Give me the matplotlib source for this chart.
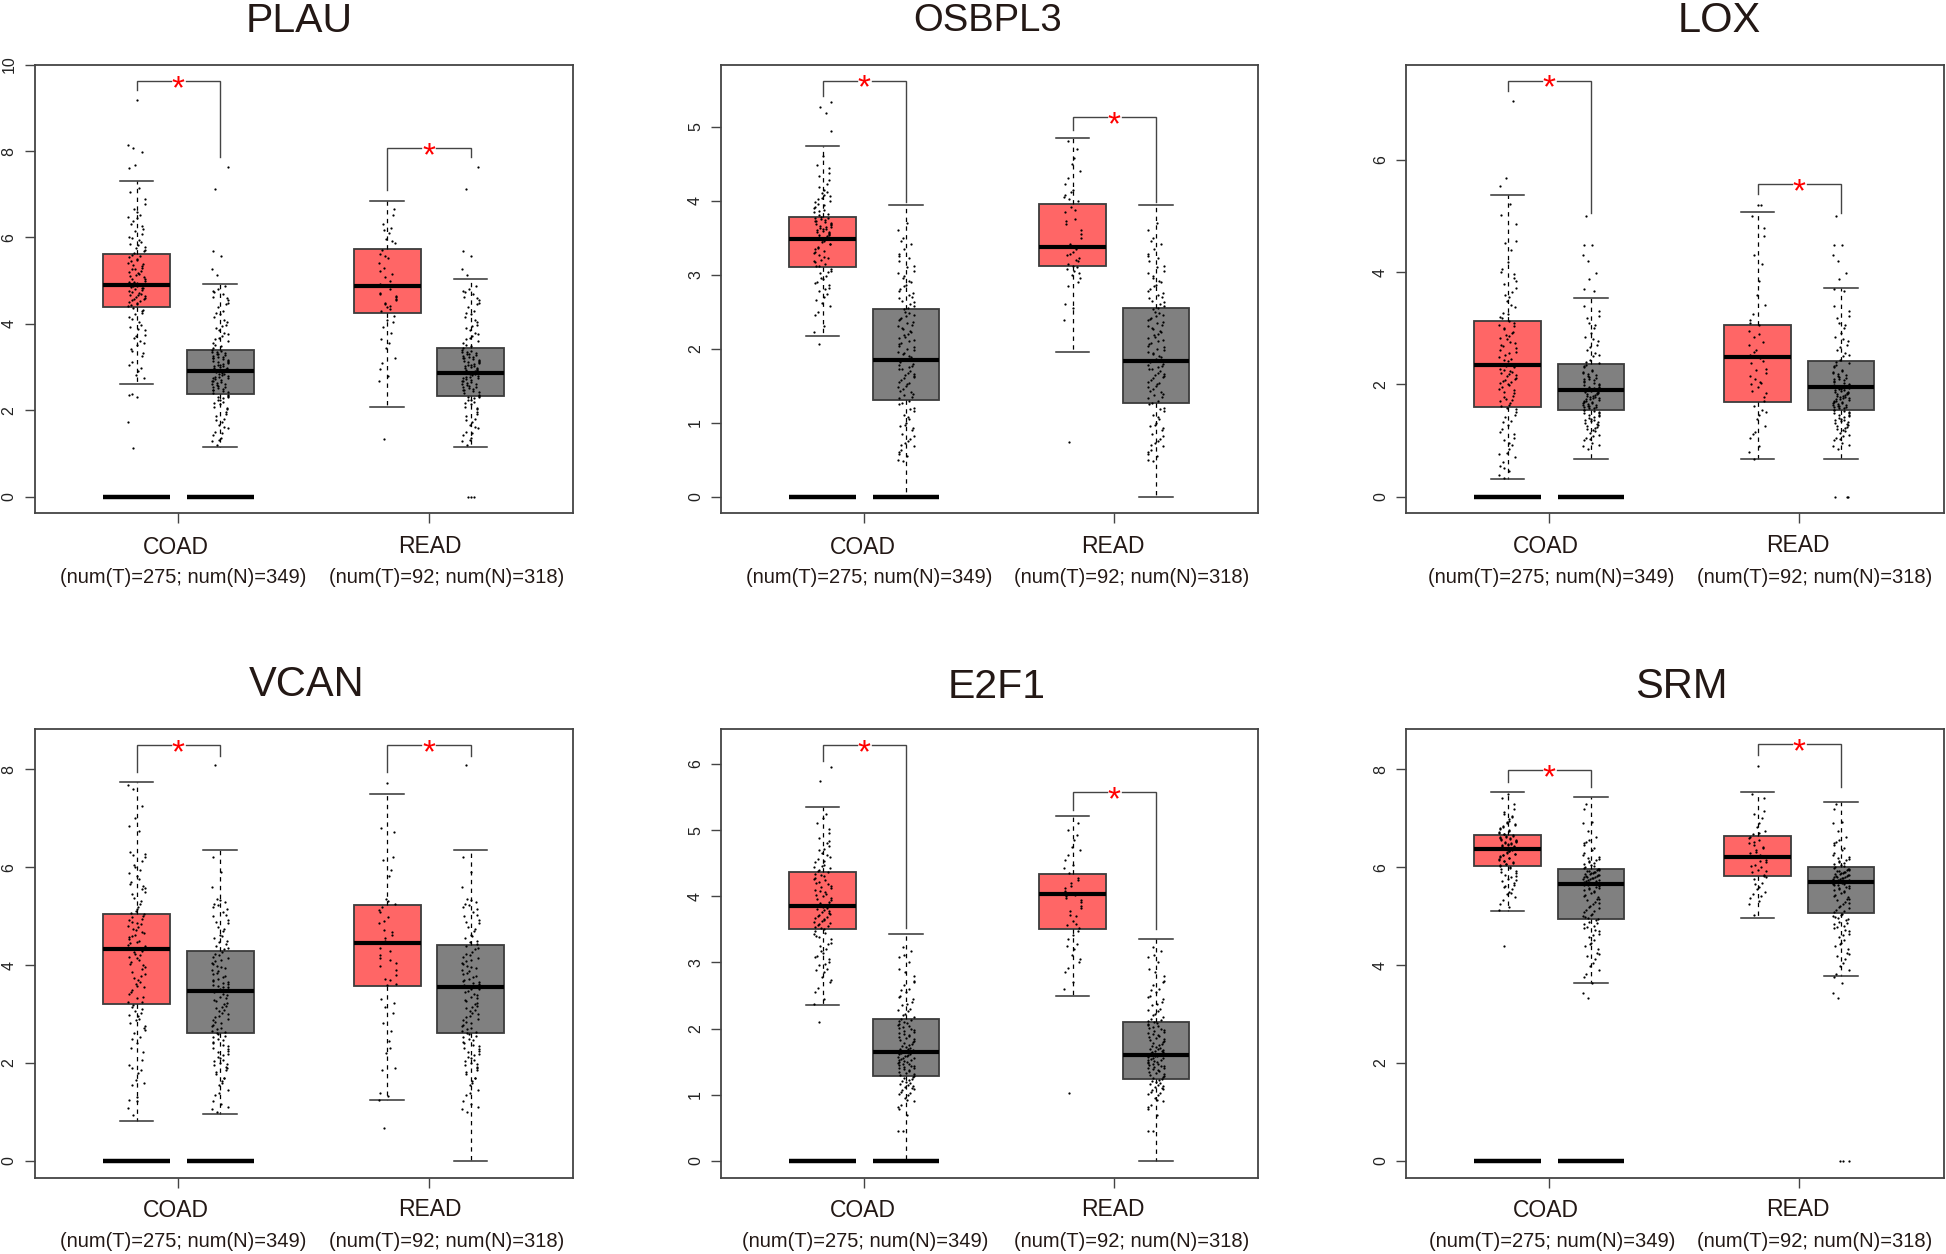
import matplotlib
matplotlib.use("Agg")
import matplotlib.pyplot as plt

plt.rcParams['font.family'] = ['Liberation Sans', 'DejaVu Sans']

# stats per box: whisker low, q1, median, q3, whisker high  (COAD T, COAD N, READ T, READ N)
plau_stats = [[2.62,4.38,4.90,5.62,7.30],[1.15,2.37,2.92,3.40,4.93],[2.08,4.25,4.87,5.73,6.85],[1.15,2.33,2.87,3.45,5.05]]
osbpl3_stats = [[2.17,3.10,3.48,3.78,4.74],[0,1.30,1.84,2.53,3.94],[1.95,3.12,3.37,3.95,4.85],[0,1.27,1.83,2.55,3.94]]
lox_stats = [[0.31,1.60,2.35,3.13,5.38],[0.66,1.55,1.90,2.37,3.53],[0.66,1.68,2.48,3.06,5.08],[0.66,1.55,1.95,2.42,3.72]]
vcan_stats = [[0.82,3.20,4.33,5.05,7.74],[0.95,2.60,3.46,4.28,6.35],[1.24,3.58,4.45,5.22,7.50],[0,2.60,3.55,4.40,6.35]]
e2f1_stats = [[2.35,3.50,3.86,4.37,5.35],[0,1.28,1.65,2.15,3.43],[2.50,3.50,4.03,4.33,5.22],[0,1.24,1.60,2.10,3.36]]
srm_stats = [[5.10,6.03,6.38,6.65,7.54],[3.63,4.95,5.65,5.97,7.44],[4.97,5.83,6.20,6.63,7.54],[3.77,5.07,5.70,6.00,7.33]]

# (bracket start over tumour, bracket top, bracket end over normal)
plau_brackets = [(9.42,9.62,7.85),(7.1,8.07,7.85)]
osbpl3_brackets = [(5.42,5.62,3.98),(4.95,5.13,3.98)]
lox_brackets = [(7.22,7.41,5.05),(5.4,5.57,5.05)]
vcan_brackets = [(7.95,8.5,8.28),(7.95,8.5,8.28)]
e2f1_brackets = [(6.05,6.28,3.52),(5.3,5.57,3.5)]
srm_brackets = [(7.75,7.98,7.65),(8.3,8.52,7.65)]

plau_t_coad = [1.12,1.73,2.30,2.35,2.38,2.75,2.82,2.90,2.98,3.12,3.25,3.33,3.41,3.52,3.60,3.68,3.74,3.85,3.92,4.05,4.16,4.22,4.30,4.36,4.41,4.46,4.50,4.55,4.58,4.62,4.66,4.70,4.74,4.78,4.82,4.85,4.88,4.92,4.96,5.00,5.05,5.10,5.15,5.20,5.26,5.30,5.36,5.42,5.48,5.54,5.60,5.68,5.75,5.82,5.90,5.98,6.08,6.20,6.32,6.45,6.52,6.65,6.78,6.90,7.05,7.15,7.60,7.68,7.98,8.07,8.15,9.18]
plau_t_read = [1.34,2.68,2.80,2.95,3.10,3.20,3.45,3.55,3.80,3.92,4.05,4.18,4.30,4.38,4.42,4.48,4.58,4.65,4.72,4.80,4.92,5.08,5.15,5.30,5.40,5.52,5.62,5.70,5.88,5.96,6.10,6.22,6.30,6.52,6.65]
plau_n = [1.20,1.28,1.35,1.42,1.50,1.58,1.65,1.72,1.80,1.88,1.95,2.02,2.08,2.14,2.20,2.25,2.30,2.34,2.40,2.44,2.48,2.52,2.55,2.58,2.62,2.65,2.68,2.72,2.75,2.78,2.82,2.85,2.88,2.91,2.94,2.97,3.00,3.03,3.06,3.09,3.12,3.15,3.18,3.21,3.24,3.28,3.31,3.34,3.38,3.44,3.52,3.60,3.68,3.72,3.80,3.90,3.98,4.05,4.15,4.22,4.30,4.40,4.48,4.56,4.62,4.70,4.76,4.80,4.88,5.14,5.28,5.56,5.68,7.12,7.62]
plau_read_extra = [0,0,0]
plau_t_coad_core = [3.05,3.37,3.55,3.71,3.88,3.98,4.12,4.25,4.33,4.43,4.48,4.53,4.57,4.60,4.64,4.68,4.72,4.76,4.80,4.84,4.87,4.90,4.94,4.98,5.03,5.08,5.13,5.18,5.23,5.28,5.33,5.39,5.45,5.51,5.57,5.63,5.71,5.78,5.86,5.94,6.02,6.14,6.26,6.39,6.48,6.58]
plau_t_read_core = [3.65,4.10,4.35,4.45,4.55,4.62,4.70,5.00,5.22,5.58,5.92,6.18]
plau_n_core = [1.32,1.47,1.62,1.77,1.92,2.05,2.17,2.23,2.28,2.32,2.36,2.42,2.46,2.50,2.54,2.57,2.60,2.64,2.67,2.70,2.74,2.77,2.80,2.84,2.87,2.90,2.93,2.96,2.99,3.02,3.05,3.08,3.11,3.14,3.17,3.20,3.23,3.26,3.30,3.33,3.36,3.40,3.48,3.56,3.64,3.76,3.85,3.95,4.10,4.25,4.45,4.60,4.74]

osbpl3_t_coad = [2.06,2.22,2.30,2.45,2.50,2.58,2.62,2.70,2.74,2.78,2.82,2.86,2.90,2.94,2.98,3.02,3.05,3.08,3.11,3.14,3.17,3.20,3.23,3.26,3.29,3.32,3.35,3.38,3.41,3.44,3.46,3.49,3.51,3.53,3.55,3.57,3.59,3.61,3.63,3.65,3.67,3.69,3.71,3.73,3.75,3.77,3.80,3.84,3.88,3.92,3.96,4.00,4.04,4.08,4.12,4.18,4.28,4.38,4.48,4.60,5.19,5.27,5.34,4.94]
osbpl3_t_read = [0.74,2.38,2.55,2.60,2.85,2.95,3.00,3.05,3.10,3.14,3.18,3.22,3.26,3.30,3.35,3.42,3.50,3.60,3.68,3.75,3.85,3.92,4.00,4.02,4.05,4.15,4.22,4.30,4.40,4.50,4.58,4.70,4.80]
osbpl3_n = [0.48,0.50,0.55,0.60,0.63,0.68,0.72,0.75,0.78,0.85,0.90,0.92,0.95,1.00,1.05,1.10,1.15,1.20,1.25,1.29,1.33,1.37,1.41,1.45,1.48,1.52,1.55,1.58,1.61,1.64,1.67,1.70,1.73,1.76,1.79,1.82,1.86,1.90,1.94,1.98,2.02,2.06,2.10,2.14,2.18,2.22,2.26,2.30,2.34,2.38,2.42,2.46,2.50,2.55,2.60,2.65,2.70,2.75,2.80,2.86,2.92,2.98,3.05,3.12,3.18,3.22,3.28,3.35,3.42,3.50,3.60,3.70]
osbpl3_t_coad_core = [2.66,2.80,2.88,2.96,3.04,3.12,3.18,3.24,3.30,3.36,3.42,3.47,3.50,3.52,3.54,3.56,3.58,3.60,3.62,3.64,3.66,3.68,3.70,3.72,3.74,3.76,3.78,3.82,3.86,3.90,3.94,3.98,4.02,4.06,4.10,4.15,4.22,4.33,4.44]
osbpl3_t_read_core = [2.90,3.02,3.08,3.12,3.20,3.28,3.38,3.55,3.72,3.88,4.08,4.12]
osbpl3_n_core = [0.58,0.70,0.82,0.97,1.08,1.18,1.27,1.35,1.39,1.43,1.50,1.54,1.60,1.63,1.66,1.72,1.75,1.78,1.84,1.88,1.92,1.96,2.00,2.04,2.08,2.12,2.16,2.20,2.24,2.28,2.32,2.36,2.40,2.44,2.48,2.53,2.58,2.63,2.68,2.73,2.78,2.84,2.90,2.95,3.02,3.10,3.25,3.45]

lox_t_coad = [0.33,0.38,0.45,0.55,0.62,0.70,0.78,0.85,0.92,1.00,1.05,1.12,1.20,1.28,1.35,1.42,1.50,1.56,1.62,1.66,1.70,1.74,1.80,1.86,1.92,1.98,2.02,2.06,2.10,2.14,2.18,2.22,2.26,2.30,2.33,2.37,2.41,2.46,2.52,2.58,2.64,2.70,2.76,2.82,2.88,2.94,3.00,3.06,3.12,3.20,3.28,3.38,3.48,3.55,3.65,3.78,3.90,3.96,4.05,4.18,4.40,4.52,4.55,4.85,5.02,5.21,5.53,5.68,7.05]
lox_t_read = [0.66,0.80,0.90,1.05,1.12,1.25,1.38,1.45,1.55,1.62,1.70,1.78,1.88,1.95,2.02,2.10,2.20,2.28,2.38,2.47,2.52,2.62,2.75,2.85,2.95,3.05,3.15,3.25,3.42,3.60,3.85,4.15,4.30,4.65,4.78,5.00,5.20,5.20]
lox_n = [0.85,0.90,0.95,1.00,1.05,1.10,1.14,1.18,1.22,1.26,1.30,1.33,1.36,1.39,1.42,1.45,1.48,1.51,1.54,1.57,1.59,1.61,1.63,1.65,1.67,1.69,1.71,1.73,1.75,1.77,1.79,1.81,1.83,1.85,1.87,1.89,1.91,1.93,1.95,1.98,2.01,2.04,2.07,2.10,2.13,2.16,2.19,2.22,2.26,2.30,2.34,2.38,2.44,2.50,2.56,2.62,2.70,2.78,2.84,2.92,3.00,3.10,3.22,3.30,3.40,3.66,3.70,3.87,3.99,4.20,4.31,4.49,4.49,5.00]
lox_read_extra = [0,0,0]
lox_t_coad_core = [0.50,0.75,0.95,1.15,1.33,1.46,1.58,1.64,1.72,1.78,1.84,1.90,1.96,2.00,2.04,2.08,2.12,2.16,2.20,2.24,2.28,2.32,2.36,2.43,2.49,2.55,2.62,2.68,2.74,2.80,2.86,2.92,2.98,3.04,3.10,3.18,3.26,3.42,3.60,3.72,3.85,4.00]
lox_t_read_core = [1.15,1.50,1.85,2.00,2.05,2.15,2.25,2.42,2.58,2.70,2.90,3.10]
lox_n_core = [0.92,1.02,1.08,1.16,1.20,1.24,1.28,1.31,1.34,1.37,1.40,1.43,1.46,1.49,1.52,1.55,1.58,1.60,1.62,1.64,1.66,1.68,1.70,1.72,1.74,1.76,1.78,1.80,1.82,1.84,1.86,1.88,1.90,1.92,1.94,1.96,1.99,2.03,2.06,2.09,2.12,2.15,2.20,2.24,2.32,2.40,2.52,2.66,2.80,3.05,3.18]

vcan_t_coad = [0.93,1.07,1.22,1.25,1.55,1.58,1.65,1.80,1.85,1.90,2.05,2.22,2.30,2.40,2.52,2.60,2.68,2.75,2.82,2.90,2.98,3.05,3.10,3.18,3.25,3.32,3.40,3.48,3.55,3.62,3.70,3.78,3.85,3.92,4.00,4.06,4.14,4.20,4.26,4.32,4.38,4.45,4.50,4.58,4.62,4.68,4.74,4.80,4.86,4.92,4.98,5.04,5.10,5.18,5.30,5.45,5.55,5.62,5.70,5.82,5.95,6.05,6.20,6.28,6.32,6.75,6.85,7.00,7.25,7.60,7.68]
vcan_t_read = [0.67,1.25,1.32,1.38,1.85,1.90,2.20,2.45,2.65,2.82,3.02,3.22,3.30,3.60,3.70,3.72,3.90,4.05,4.15,4.28,4.35,4.50,4.62,4.72,4.85,4.98,5.08,5.18,5.25,5.35,5.82,5.95,6.15,6.20,6.72,6.80,7.72]
vcan_n = [1.00,1.05,1.15,1.22,1.35,1.45,1.55,1.62,1.70,1.78,1.85,1.90,1.95,2.00,2.06,2.12,2.18,2.24,2.30,2.36,2.42,2.48,2.54,2.60,2.66,2.72,2.78,2.84,2.90,2.96,3.02,3.08,3.12,3.16,3.22,3.28,3.34,3.40,3.46,3.52,3.56,3.60,3.64,3.68,3.72,3.78,3.84,3.90,3.96,4.02,4.08,4.14,4.20,4.26,4.32,4.38,4.44,4.50,4.56,4.62,4.70,4.78,4.85,4.92,5.00,5.08,5.18,5.22,5.28,5.35,5.60,5.90,6.20,8.09]
vcan_t_coad_core = [1.30,1.95,2.48,2.72,2.88,2.95,3.02,3.14,3.24,3.35,3.45,3.58,3.66,3.74,3.82,3.95,4.03,4.10,4.17,4.23,4.29,4.35,4.41,4.47,4.54,4.60,4.65,4.71,4.77,4.83,4.89,4.95,5.01,5.06,5.14,5.24,5.38,5.50,5.58,5.66,5.76,5.88,6.00,6.12,6.24]
vcan_t_read_core = [2.30,3.15,3.62,3.80,3.98,4.10,4.20,4.55,4.68,4.90,5.12,5.30]
vcan_n_core = [1.10,1.38,1.58,1.68,1.82,1.92,1.98,2.04,2.10,2.16,2.22,2.28,2.34,2.40,2.46,2.52,2.58,2.64,2.70,2.76,2.82,2.88,2.94,3.00,3.06,3.14,3.20,3.26,3.32,3.38,3.44,3.50,3.55,3.58,3.62,3.66,3.70,3.75,3.81,3.87,3.93,3.99,4.05,4.11,4.17,4.23,4.35,4.47,4.60,4.74,4.88,5.02,5.15,5.25,5.32]

e2f1_t_coad = [2.10,2.38,2.45,2.55,2.62,2.70,2.78,2.85,2.90,2.96,3.00,3.05,3.10,3.15,3.20,3.25,3.30,3.35,3.40,3.45,3.48,3.52,3.55,3.58,3.61,3.64,3.67,3.70,3.73,3.76,3.79,3.82,3.85,3.88,3.92,3.96,4.00,4.04,4.08,4.12,4.16,4.20,4.24,4.28,4.32,4.36,4.40,4.44,4.48,4.52,4.56,4.60,4.66,4.72,4.80,4.88,4.96,5.02,5.10,5.18,5.25,5.74,5.95]
e2f1_t_read = [1.03,2.60,2.70,2.85,2.92,3.05,3.12,3.20,3.28,3.35,3.48,3.52,3.56,3.62,3.70,3.78,3.86,3.95,4.00,4.05,4.12,4.20,4.28,4.35,4.42,4.48,4.55,4.62,4.70,4.75,4.85,4.92,5.00,5.10]
e2f1_n = [0.45,0.45,0.70,0.78,0.85,0.90,0.95,1.00,1.03,1.07,1.10,1.13,1.16,1.19,1.22,1.25,1.28,1.31,1.34,1.37,1.40,1.42,1.44,1.46,1.48,1.50,1.52,1.54,1.56,1.58,1.60,1.62,1.64,1.66,1.68,1.70,1.72,1.75,1.78,1.81,1.84,1.87,1.90,1.93,1.96,1.99,2.02,2.05,2.08,2.11,2.14,2.18,2.22,2.26,2.30,2.35,2.40,2.45,2.50,2.55,2.60,2.66,2.72,2.80,2.90,3.00,3.08,3.12,3.18,3.24]
e2f1_t_coad_core = [2.74,2.88,2.98,3.08,3.18,3.28,3.38,3.43,3.50,3.54,3.57,3.60,3.63,3.66,3.69,3.72,3.75,3.78,3.81,3.84,3.87,3.90,3.94,3.98,4.02,4.06,4.10,4.14,4.18,4.22,4.26,4.30,4.34,4.38,4.42,4.46,4.54,4.62,4.70,4.76,4.84]
e2f1_t_read_core = [3.00,3.25,3.42,3.58,3.72,3.82,3.92,3.98,4.02,4.08,4.16,4.24]
e2f1_n_core = [0.82,0.92,1.02,1.05,1.09,1.12,1.15,1.18,1.21,1.24,1.27,1.30,1.33,1.36,1.39,1.41,1.43,1.45,1.47,1.49,1.51,1.53,1.55,1.57,1.59,1.61,1.63,1.65,1.67,1.69,1.71,1.74,1.77,1.80,1.83,1.86,1.89,1.92,1.95,1.98,2.01,2.04,2.07,2.10,2.13,2.20,2.28,2.38,2.48,2.58,2.70,2.85]

srm_t_coad = [4.38,5.12,5.18,5.25,5.32,5.40,5.45,5.50,5.55,5.60,5.64,5.68,5.72,5.76,5.80,5.84,5.88,5.92,5.96,6.00,6.04,6.07,6.10,6.13,6.16,6.19,6.22,6.25,6.28,6.31,6.34,6.37,6.39,6.41,6.43,6.45,6.47,6.49,6.51,6.53,6.55,6.57,6.59,6.61,6.63,6.65,6.68,6.72,6.76,6.80,6.84,6.88,6.92,6.98,7.04,7.12,7.20,7.30,7.42,7.50]
srm_t_read = [5.02,5.25,5.30,5.38,5.45,5.50,5.55,5.60,5.68,5.75,5.82,5.85,5.90,5.95,6.00,6.05,6.10,6.15,6.20,6.25,6.30,6.35,6.40,6.45,6.50,6.55,6.62,6.68,6.75,6.82,6.90,7.00,7.08,7.15,7.42,7.50,8.06]
srm_n = [3.32,3.42,3.64,3.75,3.82,3.90,3.98,4.05,4.12,4.18,4.25,4.32,4.38,4.45,4.52,4.58,4.64,4.70,4.75,4.80,4.84,4.88,4.92,4.96,5.00,5.04,5.08,5.12,5.16,5.20,5.24,5.28,5.32,5.36,5.40,5.44,5.48,5.52,5.55,5.58,5.61,5.64,5.66,5.68,5.70,5.72,5.74,5.76,5.78,5.80,5.82,5.84,5.86,5.88,5.90,5.92,5.94,5.96,6.00,6.04,6.08,6.12,6.16,6.20,6.30,6.40,6.50,6.55,6.62,6.75,6.90,6.92,7.20,7.30]
srm_read_extra = [0,0,0]
srm_t_coad_core = [5.48,5.62,5.74,5.82,5.90,5.98,6.02,6.06,6.09,6.12,6.15,6.18,6.21,6.24,6.27,6.30,6.33,6.36,6.38,6.40,6.42,6.44,6.46,6.48,6.50,6.52,6.54,6.56,6.58,6.60,6.62,6.64,6.67,6.70,6.74,6.78,6.82,6.86,6.90,6.95,7.02,7.08]
srm_t_read_core = [5.42,5.65,5.80,5.92,6.02,6.12,6.22,6.32,6.42,6.52,6.60,6.70]
srm_n_core = [4.22,4.42,4.62,4.72,4.78,4.86,4.94,4.98,5.02,5.10,5.18,5.26,5.34,5.42,5.50,5.54,5.57,5.60,5.63,5.65,5.67,5.69,5.71,5.73,5.75,5.77,5.79,5.81,5.83,5.85,5.87,5.89,5.91,5.93,5.95,5.97,5.99,6.02,6.06,6.10,6.14,6.18,6.25,6.35,6.45,6.52]

genes = ['PLAU','OSBPL3','LOX','VCAN','E2F1','SRM']
ylims = [(-0.37,10.0),(-0.22,5.84),(-0.29,7.7),(-0.36,8.83),(-0.26,6.53),(-0.36,8.83)]
yticks = [[0,2,4,6,8,10],[0,1,2,3,4,5],[0,2,4,6],[0,2,4,6,8],[0,1,2,3,4,5,6],[0,2,4,6,8]]
groups = ['COAD','READ']
counts = ['(num(T)=275; num(N)=349)','(num(T)=92; num(N)=318)']

# layout in the coordinates of the 1568x1010 view
W, H = 1568.0, 1010.0
ax_x = [(28,462),(581,1014),(1133,1566),(28,462),(581,1014),(1133,1566)]
ax_y = [(52,413),(52,413),(52,413),(587,949),(587,949),(587,949)]
title_xy = [(241,17),(796,17),(1385,17),(247,552),(803,553),(1355,553)]
title_sizes = [29.5,27.5,30,30,29.5,30]
group_xy = [((142,441),(346,440)),((695,441),(897,440)),((1246,440),(1449,439)),
            ((142,975),(346,974)),((695,975),(897,974)),((1246,975),(1449,974))]
count_xy = [((147.5,465),(359.5,465)),((700.5,465),(911.5,465)),((1249.5,465),(1462.5,465)),
            ((147.5,1000),(359.5,1000)),((697.5,1000),(911.5,1000)),((1250.5,1000),(1462.5,1000))]

positions = [1,2,4,5]
jitter = [-0.04,0.07,-0.09,0.02,0.10,-0.06,0.04,-0.10,0.08,-0.02,0.05,-0.08,0.09,-0.03,0.01,-0.07,0.06,-0.05,0.03,-0.01,0.10,-0.09,0.00]

t_coad = [plau_t_coad+plau_t_coad_core,osbpl3_t_coad+osbpl3_t_coad_core,lox_t_coad+lox_t_coad_core,
          vcan_t_coad+vcan_t_coad_core,e2f1_t_coad+e2f1_t_coad_core,srm_t_coad+srm_t_coad_core]
t_read = [plau_t_read+plau_t_read_core,osbpl3_t_read+osbpl3_t_read_core,lox_t_read+lox_t_read_core,
          vcan_t_read+vcan_t_read_core,e2f1_t_read+e2f1_t_read_core,srm_t_read+srm_t_read_core]
normals = [plau_n+plau_n_core,osbpl3_n+osbpl3_n_core,lox_n+lox_n_core,vcan_n+vcan_n_core,e2f1_n+e2f1_n_core,srm_n+srm_n_core]
read_extra = [plau_read_extra,[],lox_read_extra,[],[],srm_read_extra]
stats_all = [plau_stats,osbpl3_stats,lox_stats,vcan_stats,e2f1_stats,srm_stats]
brackets_all = [plau_brackets,osbpl3_brackets,lox_brackets,vcan_brackets,e2f1_brackets,srm_brackets]

def jitter_points(ax, pos, values):
    xs = [pos + jitter[(i*7) % len(jitter)] for i in range(len(values))]
    ax.scatter(xs, values, s=2.6, c='black', marker='o', linewidths=0, zorder=4)

def draw_bracket(ax, left, right, bracket):
    start, top, end = bracket
    mid = (left + right) / 2.0
    ax.plot([left,left,mid-0.09], [start,top,top], color='#444444', lw=1.0, zorder=3, solid_joinstyle='miter')
    ax.plot([mid+0.09,right,right], [top,top,end], color='#444444', lw=1.0, zorder=3, solid_joinstyle='miter')
    ax.annotate('*', (mid, top), xytext=(0,-6), textcoords='offset points', color='red',
                fontsize=24, ha='center', va='center', zorder=5)

fig = plt.figure(figsize=(19.46,12.54), dpi=100)

for i, gene in enumerate(genes):
    x0, x1 = ax_x[i]
    y0, y1 = ax_y[i]
    ax = fig.add_axes([x0/W, 1-y1/H, (x1-x0)/W, (y1-y0)/H])

    stats = [dict(whislo=s[0], q1=s[1], med=s[2], q3=s[3], whishi=s[4]) for s in stats_all[i]]
    parts = ax.bxp(stats, positions=positions, widths=0.8, capwidths=0.4, showfliers=False, patch_artist=True,
                   boxprops=dict(edgecolor='#3c3c3c', linewidth=1.3),
                   medianprops=dict(color='black', linewidth=3.0, solid_capstyle='butt'),
                   whiskerprops=dict(color='black', linewidth=0.9, linestyle=(0,(3.5,3.5))),
                   capprops=dict(color='#333333', linewidth=1.1), zorder=2)
    for box, colour in zip(parts['boxes'], ['#ff6666','#808080','#ff6666','#808080']):
        box.set_facecolor(colour)

    # the flat tumour and normal bars at zero, COAD only
    ax.hlines([0,0], [0.6,1.6], [1.4,2.4], color='black', lw=3.2, zorder=3)

    jitter_points(ax, 1, t_coad[i])
    jitter_points(ax, 2, normals[i])
    jitter_points(ax, 4, t_read[i])
    jitter_points(ax, 5, normals[i] + read_extra[i])

    draw_bracket(ax, 1, 2, brackets_all[i][0])
    draw_bracket(ax, 4, 5, brackets_all[i][1])

    ax.set_xlim(-0.22, 6.23)
    ax.set_ylim(*ylims[i])
    ax.set_xticks([1.5,4.5])
    ax.set_xticklabels([])
    ax.set_yticks(yticks[i])
    ax.set_yticklabels([str(t) for t in yticks[i]], rotation=90, va='center', fontsize=11.5, color='#222222')
    ax.tick_params(axis='both', length=7, width=1.0, color='#444444', pad=6)
    for spine in ax.spines.values():
        spine.set_color('#444444')
        spine.set_linewidth(1.3)

    fig.text(title_xy[i][0]/W, 1-title_xy[i][1]/H, gene, fontsize=title_sizes[i], ha='center', va='center', color='#231815')
    for j in range(2):
        gx, gy = group_xy[i][j]
        cx, cy = count_xy[i][j]
        fig.text(gx/W, 1-gy/H, groups[j], fontsize=16.5, ha='center', va='center', color='#231815')
        fig.text(cx/W, 1-cy/H, counts[j], fontsize=14.5, ha='center', va='center', color='#231815')

fig.savefig('out.png', dpi=100)
